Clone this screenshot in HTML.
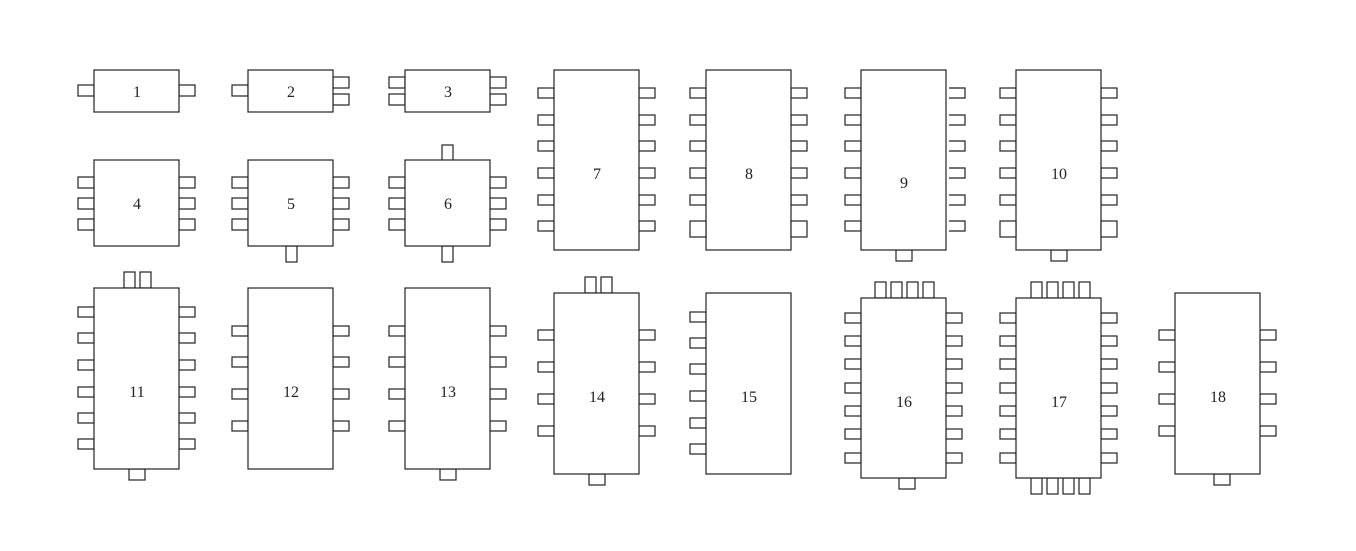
<!DOCTYPE html>
<html><head><meta charset="utf-8"><style>
html,body{margin:0;padding:0;background:#fff;width:1356px;height:551px;overflow:hidden}
svg{display:block}
text{font-family:"Liberation Serif",serif;font-size:16px;fill:#222;text-anchor:middle}
rect,path{fill:#fff;stroke:#222;stroke-width:1.2}
</style></head><body>
<svg id="s" width="1356" height="551" viewBox="0 0 1356 551" xmlns="http://www.w3.org/2000/svg">
<g id="g"></g>
<text x="137" y="97">1</text>
<text x="291" y="97">2</text>
<text x="448" y="97">3</text>
<text x="137" y="209">4</text>
<text x="291" y="209">5</text>
<text x="448" y="209">6</text>
<text x="597" y="179">7</text>
<text x="749" y="179">8</text>
<text x="904" y="188">9</text>
<text x="1059" y="179">10</text>
<text x="137" y="397">11</text>
<text x="291" y="397">12</text>
<text x="448" y="397">13</text>
<text x="597" y="402">14</text>
<text x="749" y="402">15</text>
<text x="904" y="407">16</text>
<text x="1059" y="407">17</text>
<text x="1218" y="402">18</text>
</svg>
<script>
var g=document.getElementById('g'),h='';
function R(x,y,w,hh){h+='<rect x="'+x+'" y="'+y+'" width="'+w+'" height="'+hh+'"/>';}
function box(x,y,w,hh,L,Rt,ph,Rph){
 L.forEach(function(t){R(x-16,t,16,ph||11);});
 Rt.forEach(function(t){R(x+w,t,16,Rph||ph||11);});
 R(x,y,w,hh);
}
// row 1
box(94,70,85,42,[85],[85]);
box(248,70,85,42,[85],[77,94]);
box(405,70,85,42,[77,94],[77,94]);
// row 2
box(94,160,85,86,[177,198,219],[177,198,219]);
R(286,246,11,16);box(248,160,85,86,[177,198,219],[177,198,219]);
R(442,145,11,16);R(442,246,11,16);box(405,160,85,86,[177,198,219],[177,198,219]);
var p6=[88,115,141,168,195,221];
box(554,70,85,180,p6,p6,10);
box(706,70,85,180,p6.slice(0,5),p6.slice(0,5),10);R(690,221,16,16);R(791,221,16,16);
R(896,250,16,11);box(861,70,85,180,p6,[],10);
p6.forEach(function(t){h+='<path d="M949 '+t+'H965V'+(t+10)+'H949" style="fill:none"/>';});
R(1051,250,16,11);box(1016,70,85,180,p6.slice(0,5),p6.slice(0,5),10);R(1000,221,16,16);R(1101,221,16,16);
// row 3
var p11=[307,333,360,387,413,439];
R(124,272,11,16);R(140,272,11,16);R(129,469,16,11);
box(94,288,85,181,p11,p11,10);
var p12=[326,357,389,421];
box(248,288,85,181,p12,p12,10);
R(440,469,16,11);box(405,288,85,181,p12,p12,10);
var p14=[330,362,394,426];
R(585,277,11,16);R(601,277,11,16);R(589,474,16,11);
box(554,293,85,181,p14,p14,10);
box(706,293,85,181,[312,338,364,391,418,444],[],10);
var p16=[313,336,359,383,406,429,453];
[875,891,907,923].forEach(function(x){R(x,282,11,16);});
R(899,478,16,11);
box(861,298,85,180,p16,p16,10);
[1031,1047,1063,1079].forEach(function(x){R(x,282,11,16);R(x,478,11,16);});
box(1016,298,85,180,p16,p16,10);
R(1214,474,16,11);box(1175,293,85,181,p14,p14,10);
g.innerHTML=h;
</script>
</body></html>
